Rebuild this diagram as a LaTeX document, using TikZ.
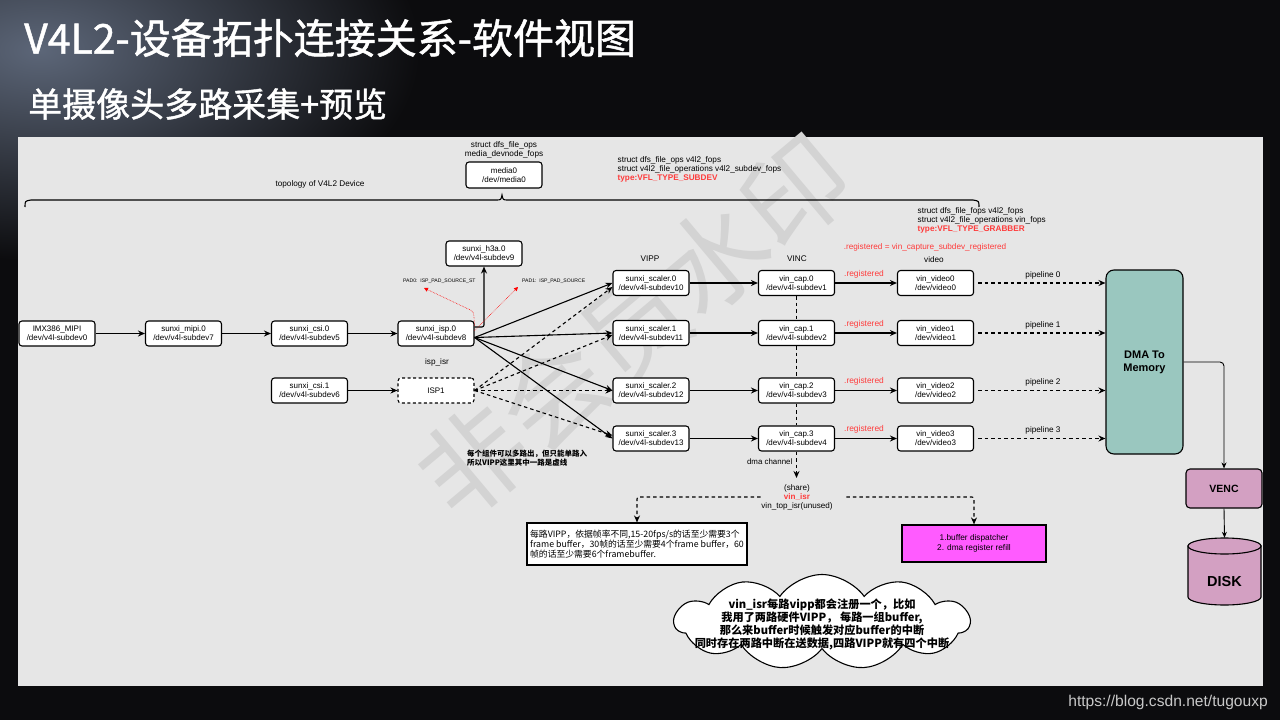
\documentclass[tikz,border=0pt]{standalone}
\usepackage{fontspec}
\setmainfont{Liberation Sans}
\newfontfamily\cjk{Noto Sans CJK SC}
\newfontfamily\cjktitle[FakeBold=1.2]{Noto Sans CJK SC}
\usetikzlibrary{arrows.meta,shapes.symbols,calc}
\definecolor{bgdark}{HTML}{0C0C0E}
\definecolor{glow}{HTML}{5C6678}
\definecolor{panel}{HTML}{E6E6E6}
\definecolor{wmgray}{HTML}{D3D3D3}
\definecolor{lblred}{HTML}{FF3B3B}
\definecolor{dmafill}{HTML}{9AC7BF}
\definecolor{mauve}{HTML}{D3A0C2}
\definecolor{magfill}{HTML}{FF5BFF}
\definecolor{urlgray}{HTML}{C8C8C8}
\tikzset{
  box/.style={draw, line width=1.1pt, rounded corners=3pt, fill=white, minimum width=76pt, minimum height=25pt, inner sep=1pt, align=center, font=\fontsize{8}{9}\selectfont},
  dbox/.style={box, dash pattern=on 3pt off 2.5pt},
  arr/.style={line width=1.1pt, -{Stealth[length=7pt,width=6pt]}},
  darr/.style={arr, dash pattern=on 3.5pt off 3pt},
  dline/.style={line width=1.1pt, dash pattern=on 3.5pt off 3pt},
  thinarr/.style={line width=0.9pt, -{Stealth[length=6pt,width=5pt]}},
  padarr/.style={draw=red, densely dotted, line width=0.6pt, -{Triangle[length=4pt,width=4pt]}},
  lbl/.style={font=\fontsize{8.2}{8.8}\selectfont, inner sep=0.5pt, align=center},
  redlbl/.style={lbl, text=lblred},
  padlbl/.style={font=\fontsize{5.1}{5.5}\selectfont, inner sep=0, anchor=west}
}
\begin{document}
\begin{tikzpicture}[x=1pt,y=-1pt]
\useasboundingbox (0,0) rectangle (1280,720);
% background
\fill[bgdark] (0,0) rectangle (1280,720);
\shade[inner color=glow, outer color=bgdark] (40,50) ellipse [x radius=380, y radius=210];
% titles
\node[anchor=west, inner sep=0, text=white, font=\cjktitle\fontsize{41}{41}\selectfont] (title) at (24,38) {V4L2-设备拓扑连接关系-软件视图};
\node[anchor=west, inner sep=0, text=white, font=\cjktitle\fontsize{34}{34}\selectfont] (subtitle) at (28,104) {单摄像头多路采集+预览};
% panel
\fill[panel] (18,137) rectangle (1263,686);
% watermark
\node[rotate=40, text=wmgray, font=\cjk\fontsize{105}{105}\selectfont, inner sep=0] (wmark) at (634,326) {非会员水印};
% brace
\draw[line width=1.1pt] (25,207) .. controls (25,201) .. (31,200) -- (496,200) .. controls (501,200) .. (502,195) .. controls (503,200) .. (508,200) -- (973,200) .. controls (979,201) .. (979,207);
% top labels
\node[lbl] (mediafops) at (504,150) {struct dfs\_file\_ops\\media\_devnode\_fops};
\node[box, minimum height=26pt] (media) at (504,175) {media0\\/dev/media0};
\node[lbl] (topo) at (320,184) {topology of V4L2 Device};
\node[lbl, anchor=north west, align=left] (subdevfops) at (617,156) {struct dfs\_file\_ops v4l2\_fops\\struct v4l2\_file\_operations v4l2\_subdev\_fops\\\textcolor{lblred}{\bfseries type:VFL\_TYPE\_SUBDEV}};
\node[lbl, anchor=north west, align=left] (grabfops) at (917,207) {struct dfs\_file\_fops v4l2\_fops\\struct v4l2\_file\_operations vin\_fops\\\textcolor{lblred}{\bfseries type:VFL\_TYPE\_GRABBER}};
\node[redlbl] (regfn) at (925,247) {.registered = vin\_capture\_subdev\_registered};
\node[lbl] (vipp) at (650,259) {VIPP};
\node[lbl] (vinc) at (797,259) {VINC};
\node[lbl] (videol) at (934,260) {video};
% left chain
\node[box] (imx) at (57,333.5) {IMX386\_MIPI\\/dev/v4l-subdev0};
\node[box] (mipi) at (183.5,333.5) {sunxi\_mipi.0\\/dev/v4l-subdev7};
\node[box] (csi0) at (309.5,333.5) {sunxi\_csi.0\\/dev/v4l-subdev5};
\node[box] (isp0) at (436,333.5) {sunxi\_isp.0\\/dev/v4l-subdev8};
\node[box] (csi1) at (309.5,390.5) {sunxi\_csi.1\\/dev/v4l-subdev6};
\node[dbox] (isp1) at (436,390.5) {ISP1};
\node[box] (h3a) at (484,253.5) {sunxi\_h3a.0\\/dev/v4l-subdev9};
\node[lbl] (ispisr) at (437,362) {isp\_isr};
\node[padlbl] (pad0lbl) at (403,281) {PAD0:\ \ ISP\_PAD\_SOURCE\_ST};
\node[padlbl] (pad1lbl) at (522,281) {PAD1:\ \ ISP\_PAD\_SOURCE};
\coordinate (pad0) at (424,288);
\coordinate (pad1) at (518,287);
% columns
\foreach \i/\y/\s/\c in {0/283/10/1, 1/333/11/2, 2/390.5/12/3, 3/438.5/13/4} {
  \node[box] (sc\i) at (651,\y) {sunxi\_scaler.\i\\/dev/v4l-subdev\s};
  \node[box] (cap\i) at (796.5,\y) {vin\_cap.\i\\/dev/v4l-subdev\c};
  \node[box] (vid\i) at (935.5,\y) {vin\_video\i\\/dev/video\i};
  \node[redlbl, font=\fontsize{8.4}{9}\selectfont] (reg\i) at (864,\y-9) {.registered};
  \node[lbl] (pl\i) at (1043,\y-8) {pipeline \i};
}
% DMA, VENC, DISK
\node[draw, line width=1.1pt, rounded corners=8pt, fill=dmafill, minimum width=77pt, minimum height=184pt, align=center, font=\bfseries\fontsize{11}{13}\selectfont] (dma) at (1144.5,362) {DMA To\\Memory};
\node[draw, line width=1.1pt, rounded corners=4pt, fill=mauve, minimum width=76pt, minimum height=39pt, font=\bfseries\fontsize{10.5}{12}\selectfont] (venc) at (1224,488.5) {VENC};
\draw[line width=1.1pt, fill=mauve] (1188,546) -- (1188,597) arc[start angle=180, end angle=0, x radius=36.5, y radius=8] -- (1261,546) -- cycle;
\draw[line width=1.1pt, fill=mauve] (1224.5,546) ellipse [x radius=36.5, y radius=8];
\node[minimum width=73pt, minimum height=67pt, inner sep=0] (disk) at (1224.5,571.5) {};
\node[font=\bfseries\fontsize{14.5}{16}\selectfont, inner sep=0] (disklbl) at (1224.5,582) {DISK};
% bottom area
\node[lbl, anchor=east, font=\fontsize{7.9}{8.5}\selectfont] (dmachlbl) at (793,462) {dma channel};
\node[lbl, font=\fontsize{8.1}{9}\selectfont] (isrlbl) at (797,497) {(share)\\\textcolor{lblred}{\bfseries vin\_isr}\\vin\_top\_isr(unused)};
\coordinate (dmach) at (796.5,478);
\node[draw, line width=1.1pt, fill=white, minimum width=220pt, minimum height=42pt, inner sep=1pt, align=left, font=\cjk\fontsize{8.8}{10}\selectfont] (notebox) at (637,544) {每路VIPP，依据帧率不同,15-20fps/s的话至少需要3个\\frame buffer，30帧的话至少需要4个frame buffer，60\\帧的话至少需要6个framebuffer.};
\node[draw, line width=1.2pt, fill=magfill, minimum width=144pt, minimum height=37pt, align=center, font=\fontsize{8.3}{9.5}\selectfont] (magbox) at (974,543.5) {1.buffer dispatcher\\2. dma register refill};
\node[cloud, cloud puffs=11, cloud puff arc=110, cloud ignores aspect, draw, line width=1.1pt, fill=white, minimum width=295pt, minimum height=95pt] (cloud) at (822,622) {};
\node[font=\cjk\bfseries\fontsize{11.2}{13}\selectfont, align=center, inner sep=0] (cloudtxt) at (822,624) {vin\_isr每路vipp都会注册一个，比如\\我用了两路硬件VIPP， 每路一组buffer,\\那么来buffer时候触发对应buffer的中断\\同时存在两路中断在送数据,四路VIPP就有四个中断};
\node[anchor=west, align=left, font=\cjk\bfseries\fontsize{7.5}{8.5}\selectfont, inner sep=0] (note2) at (467,458) {每个组件可以多路出，但只能单路入\\所以VIPP这里其中一路是虚线};
% url
\node[anchor=east, text=urlgray, font=\fontsize{15.6}{16}\selectfont, inner sep=0] (url) at (1268,702) {https://blog.csdn.net/tugouxp};
% connectors
\draw[arr] (imx.east) -- (mipi.west);
\draw[arr] (mipi.east) -- (csi0.west);
\draw[arr] (csi0.east) -- (isp0.west);
\draw[arr] (csi1.east) -- (isp1.west);
\draw[arr, rounded corners=2pt] ($(isp0.east)+(0,-6.5)$) -| (h3a.south);
\draw[padarr, rounded corners=3pt] ($(isp0.east)+(0,-8)$) -- ($(isp0.east)+(-1,-22)$) -- (pad0);
\draw[padarr] ($(isp0.east)+(0,-3)$) -- (pad1);
\foreach \i in {0,...,3} \draw[arr] ($(isp0.east)+(0,4)$) -- (sc\i.west);
\foreach \i/\o in {0/4,1/2,2/0,3/-3} \draw[darr] (isp1.east) -- ($(sc\i.west)+(0,\o)$);
\foreach \i in {0,...,3} {
  \draw[arr] (sc\i.east) -- (cap\i.west);
  \draw[arr] (cap\i.east) -- (vid\i.west);
  \draw[darr] ($(vid\i.east)+(4,0)$) -- (vid\i.east -| dma.west);
}
\draw[dline] (cap0.south) -- (cap1.north) (cap1.south) -- (cap2.north) (cap2.south) -- (cap3.north);
\draw[darr] (cap3.south) -- (dmach);
\draw[darr, rounded corners=2pt] (isrlbl.west) -| (notebox.north);
\draw[darr, rounded corners=2pt] ($(isrlbl.east)+(13,0)$) -| (magbox.north);
\draw[thinarr, rounded corners=4pt] (dma.east) -| (venc.north);
\draw[thinarr] (venc.south) -- (disk.north);
\end{tikzpicture}
\end{document}
